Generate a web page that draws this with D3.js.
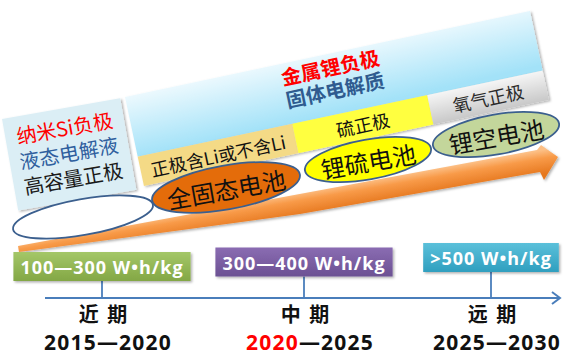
<!DOCTYPE html>
<html><head><meta charset="utf-8">
<script src="https://cdn.jsdelivr.net/npm/d3@7"></script>
<style>body{margin:0;background:#fff}svg{display:block}</style>
</head><body>
<svg id="c" width="564" height="356"></svg>
<script>
// ---- data ----
const leftFeatures = ["纳米Si负极", "液态电解液", "高容量正极"];
const leftColors = ["#ff0000", "#2f5f9e", "#1a1a1a"];
const panelTitles = ["金属锂负极", "固体电解质"];
const titleColors = ["#ff0000", "#2f5b8f"];
const cathodes = ["正极含Li或不含Li", "硫正极", "氧气正极"];
const cathodeFills = ["#f4da86", "#ffff40", "url(#gGray)"];
const batteries = ["", "全固态电池", "锂硫电池", "锂空电池"];
const batteryFills = ["#ffffff", "#e46c0a", "#ffff00", "#c3d69b"];
const periods = ["近 期", "中 期", "远 期"];
const yearStart = [2015, 2020, 2025];
const yearEnd = [2020, 2025, 2030];
const energy = ["100—300 W•h/kg", "300—400 W•h/kg", ">500 W•h/kg"];
const energyFills = ["url(#gGreen)", "url(#gPurple)", "url(#gCyan)"];

const svg = d3.select("#c");
const defs = svg.append("defs");
function lg(id, stops, x1, y1, x2, y2, user) {
  const g = defs.append("linearGradient").attr("id", id)
    .attr("x1", x1).attr("y1", y1).attr("x2", x2).attr("y2", y2);
  if (user) g.attr("gradientUnits", "userSpaceOnUse");
  stops.forEach(([o, c]) => g.append("stop").attr("offset", o).attr("stop-color", c));
}
lg("gPanel", [[0, "#ecf9fe"], [1, "#a3e2f8"]], 0, 0, 0.1, 1);
lg("gGray", [[0, "#f5f5f5"], [1, "#c8c8c8"]], 0, 0, 0, 1);
lg("gGreen", [[0, "#a4c768"], [1, "#83a745"]], 0, 0, 0, 1);
lg("gPurple", [[0, "#8a6cb2"], [1, "#6c5193"]], 0, 0, 0, 1);
lg("gCyan", [[0, "#5bc0da"], [1, "#2f9fbf"]], 0, 0, 0, 1);
lg("gArrow", [[0, "#fcbf85"], [0.35, "#f89a48"], [1, "#e6781f"]], 296, 193, 300, 216, true);
const f = defs.append("filter").attr("id", "sh")
  .attr("x", "-10%").attr("y", "-20%").attr("width", "130%").attr("height", "160%");
f.append("feDropShadow").attr("dx", 1.5).attr("dy", 1.5).attr("stdDeviation", 1.3)
  .attr("flood-color", "#000").attr("flood-opacity", 0.3);

const CJK = "'Noto Sans CJK SC', 'Noto Sans', sans-serif";
const LAT = "'Open Sans', 'Noto Sans', sans-serif";

// ---- left panel ----
const lp = svg.append("g").attr("transform", "translate(2,119) rotate(-10)");
lp.append("rect").attr("width", 120).attr("height", 93).attr("fill", "#dbeef5")
  .attr("filter", "url(#sh)");
const lv = d3.scaleLinear().domain([0, leftFeatures.length - 1]).range([19, 70]);
lp.selectAll("text.lf").data(leftFeatures).join("text").attr("class", "lf")
  .attr("x", 60).attr("y", (d, i) => lv(i)).attr("text-anchor", "middle")
  .attr("dominant-baseline", "central").attr("font-family", CJK).attr("font-size", 20)
  .attr("fill", (d, i) => leftColors[i]).text(d => d);

// ---- big panel ----
const bp = svg.append("g").attr("transform", "translate(125,97) rotate(-12)");
const PW = 414;
bp.append("rect").attr("width", PW).attr("height", 61).attr("fill", "url(#gPanel)")
  .attr("filter", "url(#sh)");
const tv = d3.scaleLinear().domain([0, 1]).range([13, 36]);
bp.selectAll("text.tt").data(panelTitles).join("text").attr("class", "tt")
  .attr("x", PW / 2).attr("y", (d, i) => tv(i)).attr("text-anchor", "middle")
  .attr("dominant-baseline", "central").attr("font-family", CJK).attr("font-weight", 700)
  .attr("font-size", 20).attr("fill", (d, i) => titleColors[i]).text(d => d);
const sx = d3.scaleLinear().domain([0, 1, 2, 3]).range([0, 158, 296, PW]);
bp.selectAll("rect.cat").data(cathodes).join("rect").attr("class", "cat")
  .attr("x", (d, i) => sx(i)).attr("y", 61).attr("width", (d, i) => sx(i + 1) - sx(i))
  .attr("height", 30).attr("fill", (d, i) => cathodeFills[i]).attr("filter", "url(#sh)");
bp.selectAll("text.cat").data(cathodes).join("text").attr("class", "cat")
  .attr("x", (d, i) => (sx(i) + sx(i + 1)) / 2).attr("y", 76).attr("text-anchor", "middle")
  .attr("dominant-baseline", "central").attr("font-family", CJK).attr("font-size", 18)
  .attr("fill", (d, i) => i === 2 ? "#2a2a2a" : "#111").text(d => d);

// ---- orange arrow ----
const arrowPts = [[18, 246], [537, 150], [541, 145], [558, 157], [544, 180], [540, 172], [300, 214], [19, 252]];
svg.append("path").attr("d", d3.line()(arrowPts) + "Z").attr("fill", "url(#gArrow)")
  .attr("filter", "url(#sh)");

// ---- battery ellipses ----
const ex = d3.scaleLinear().domain([0, 1, 2, 3]).range([83, 226, 368, 496]);
const ey = d3.scaleLinear().domain([0, 1, 2, 3]).range([217, 187.5, 159.5, 134.5]);
const rxs = [71, 75, 64, 64], rys = [18, 22, 20, 20];
const eg = svg.selectAll("g.bat").data(batteries).join("g").attr("class", "bat")
  .attr("transform", (d, i) => `translate(${ex(i)},${ey(i)}) rotate(-10)`);
eg.append("ellipse").attr("rx", (d, i) => rxs[i]).attr("ry", (d, i) => rys[i])
  .attr("fill", (d, i) => batteryFills[i]).attr("stroke", "#3b5f8e").attr("stroke-width", 1.8);
eg.append("text").attr("text-anchor", "middle").attr("dominant-baseline", "central")
  .attr("y", 1).attr("font-family", CJK).attr("font-size", 24).attr("fill", "#111")
  .text(d => d);

// ---- timeline ----
const mids = yearStart.map((s, i) => (s + yearEnd[i]) / 2);
const x = d3.scaleLinear().domain(mids).range([102, 304, 491]);
const AY = 298;
svg.append("line").attr("x1", 45).attr("x2", 559).attr("y1", AY).attr("y2", AY)
  .attr("stroke", "#4a7ebb").attr("stroke-width", 2);
svg.append("path").attr("d", `M552,${AY - 6}L560,${AY}L552,${AY + 6}`).attr("fill", "none")
  .attr("stroke", "#4a7ebb").attr("stroke-width", 2);

const boxTop = d3.scaleLinear().domain([mids[0], mids[2]]).range([252, 243]);
const boxH = 29;
const bg = svg.selectAll("g.en").data(energy).join("g").attr("class", "en");
bg.append("line").attr("x1", (d, i) => x(mids[i])).attr("x2", (d, i) => x(mids[i]))
  .attr("y1", (d, i) => boxTop(mids[i]) + boxH).attr("y2", AY)
  .attr("stroke", "#4a7ebb").attr("stroke-width", 1.8);
const boxRect = bg.append("rect").attr("fill", (d, i) => energyFills[i]).attr("filter", "url(#sh)");
const boxText = bg.append("text").attr("text-anchor", "middle").attr("dominant-baseline", "central")
  .attr("x", (d, i) => x(mids[i])).attr("y", (d, i) => boxTop(mids[i]) + boxH / 2 + 0.5)
  .attr("font-family", LAT).attr("font-weight", 700).attr("font-size", 18)
  .attr("letter-spacing", 1).attr("fill", "#fff").text(d => d);
boxText.each(function (d, i) {
  const w = this.getComputedTextLength() + 14;
  d3.select(boxRect.nodes()[i]).attr("x", x(mids[i]) - w / 2).attr("y", boxTop(mids[i]))
    .attr("width", w).attr("height", boxH);
});

svg.selectAll("text.per").data(periods).join("text").attr("class", "per")
  .attr("x", (d, i) => x(mids[i]) + 2).attr("y", 313).attr("text-anchor", "middle")
  .attr("dominant-baseline", "central").attr("font-family", CJK).attr("font-weight", 700)
  .attr("font-size", 20).attr("letter-spacing", 2).attr("fill", "#111").text(d => d);

const yt = svg.selectAll("text.yr").data(yearStart).join("text").attr("class", "yr")
  .attr("x", (d, i) => x(mids[i]) + 6).attr("y", 342).attr("text-anchor", "middle")
  .attr("dominant-baseline", "central").attr("font-family", LAT).attr("font-weight", 700)
  .attr("font-size", 21).attr("letter-spacing", 1.2).attr("fill", "#111");
yt.append("tspan").attr("fill", (d, i) => i === 1 ? "#ff0000" : "#111").text(d => d);
yt.append("tspan").text((d, i) => "—" + yearEnd[i]);
</script>
</body></html>
